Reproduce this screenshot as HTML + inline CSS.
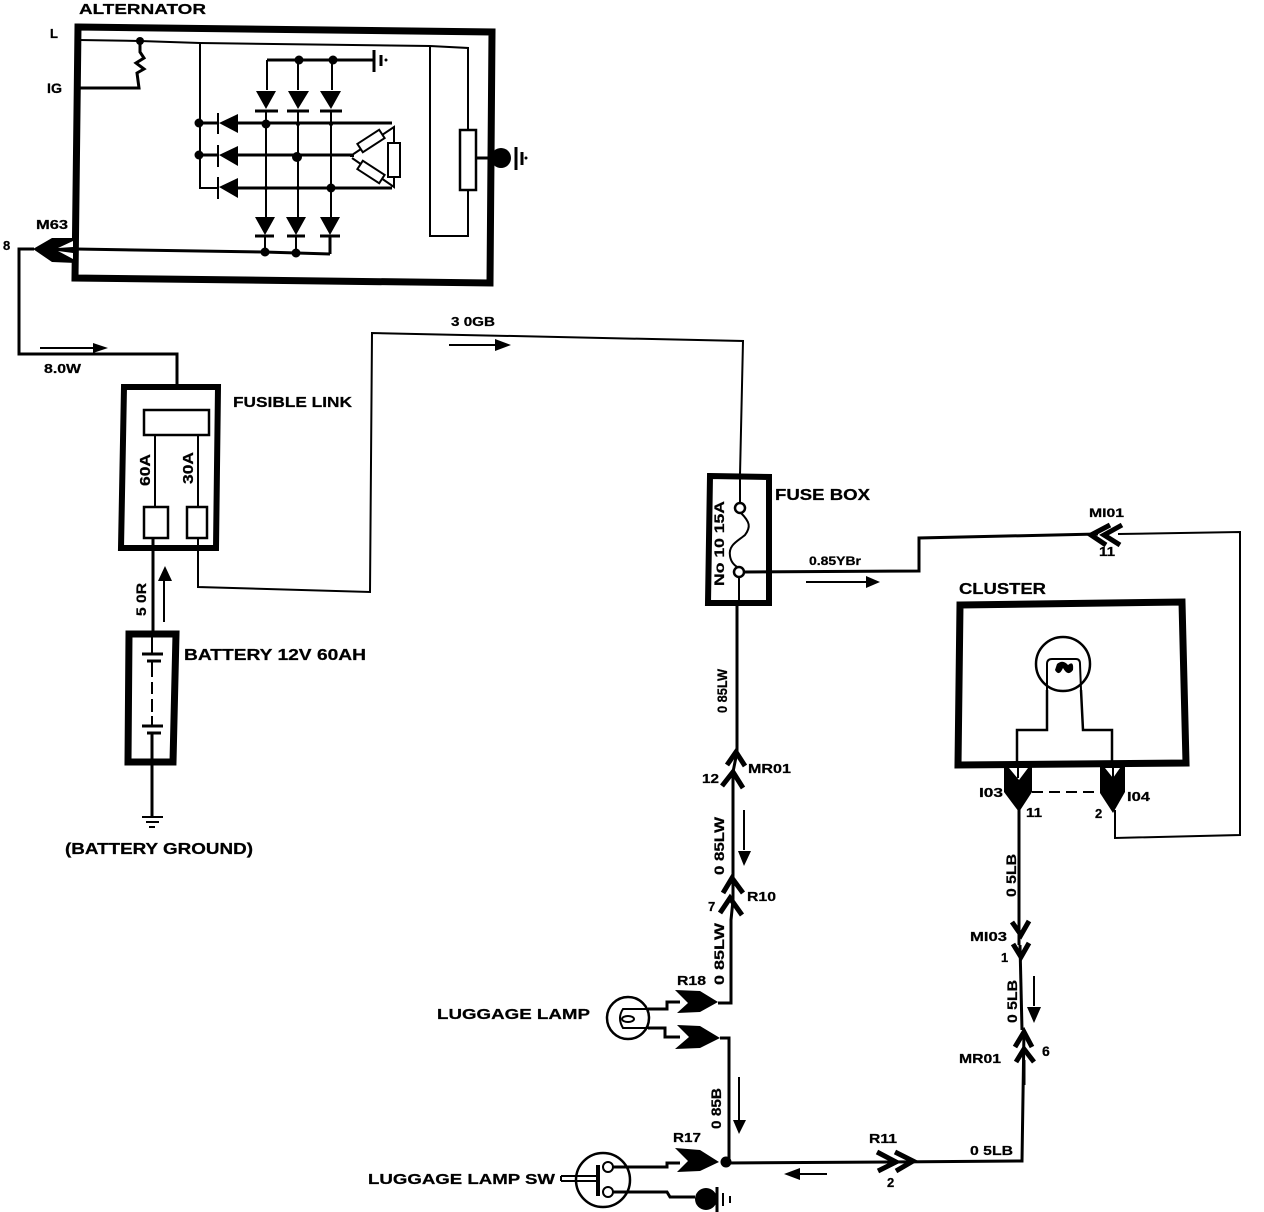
<!DOCTYPE html>
<html><head><meta charset="utf-8"><style>
html,body{margin:0;padding:0;background:#fff}
svg{display:block}
text{font-family:"Liberation Sans",sans-serif;fill:#000;stroke:#000;stroke-width:.25}
.b{font-weight:bold;font-size:16px}
.s{font-size:13px;font-weight:bold}
.w{fill:none;stroke:#000;stroke-width:2}
.h{fill:none;stroke:#000;stroke-width:3}
.t{fill:none;stroke:#000;stroke-width:6}
.c{fill:none;stroke:#000;stroke-width:5}
</style></head><body>
<svg width="1264" height="1212" viewBox="0 0 1264 1212" xmlns="http://www.w3.org/2000/svg">
<rect width="1264" height="1212" fill="#fff"/>

<!-- ALTERNATOR -->
<path class="t" style="stroke-width:7" d="M78,27 L492,32 L490,283 L75,278 Z"/>
<path class="w" d="M79,40 L140,41 L200,43 L430,46 L468,48 L468,130 M468,190 L468,236 L430,236 L430,46"/>
<rect x="460" y="130" width="16" height="60" fill="#fff" stroke="#000" stroke-width="2.5"/>
<path class="h" d="M476,158 L490,158"/>
<circle cx="501" cy="158" r="10"/>
<path class="h" d="M516,147 L516,170 M522,152 L522,165"/><circle cx="526" cy="158" r="1.5"/>
<circle cx="140" cy="41" r="4"/>
<path class="h" d="M140,41 L140,52 L144,58 L136,63 L144,69 L137,73 L139,88 L80,88"/>
<path class="w" d="M200,43 L200,188 L218,188"/>
<circle cx="199" cy="123" r="4.5"/><circle cx="199" cy="155" r="4.5"/>
<!-- horiz diodes -->
<path d="M219,123 L238,114 L238,133 Z"/><path d="M218,113 V134" class="w"/>
<path d="M219,155 L238,146 L238,166 Z"/><path d="M218,145 V167" class="w"/>
<path d="M219,187 L238,178 L238,198 Z"/><path d="M218,177 V199" class="w"/>
<path class="h" d="M200,123 H218 M238,123 H392 M200,155 H218 M238,155 H352 M238,188 H392"/>
<!-- verticals -->
<path class="w" d="M267,60 V90 M298,60 V90 M332,60 V90"/>
<path class="h" d="M267,60 H374"/>
<path class="h" d="M374,50 V72"/><path class="h" d="M381,55 V66"/><circle cx="386" cy="60" r="1.5"/>
<circle cx="299" cy="60" r="4.5"/><circle cx="333" cy="60" r="4.5"/>
<path d="M256,91 L276,91 L266,109 Z M288,91 L309,91 L298,109 Z M320,91 L341,91 L331,109 Z"/>
<path class="h" d="M255,111 H278 M287,111 H309 M320,111 H342"/>
<path class="w" d="M266,111 V218 M298,111 V218 M331,111 V218"/>
<path d="M255,217 L275,217 L265,235 Z M286,217 L306,217 L296,235 Z M320,217 L340,217 L330,235 Z"/>
<path class="h" d="M255,236 H274 M287,236 H305 M320,236 H340"/>
<path class="w" d="M265,235 V252 M296,235 V253"/>
<path class="h" d="M330,235 V254"/>
<path class="h" d="M76,249 L264,252 L330,254"/>
<circle cx="265" cy="252" r="4.5"/><circle cx="296" cy="253" r="4.5"/>
<circle cx="266" cy="124" r="4.5"/><circle cx="298" cy="124" r="2"/><circle cx="331" cy="124" r="2"/>
<circle cx="297" cy="157" r="5"/><circle cx="266" cy="188" r="2"/><circle cx="298" cy="188" r="2"/><circle cx="331" cy="188" r="4.5"/>
<!-- star / delta -->
<path class="w" d="M352,155 L394,127 L394,187 L352,158"/>
<path class="w" d="M350,156 H354"/>
<rect x="388" y="143" width="12" height="34" fill="#fff" stroke="#000" stroke-width="2"/>
<rect x="358" y="136" width="26" height="10" fill="#fff" stroke="#000" stroke-width="2" transform="rotate(-33 371 141)"/>
<rect x="358" y="167" width="26" height="10" fill="#fff" stroke="#000" stroke-width="2" transform="rotate(33 371 172)"/>
<!-- M63 -->
<path d="M33,249 L52,238 L76,238 L76,263 L52,262 Z"/>
<path d="M58,248 L73,241 L73,247 Z M58,251 L73,253 L73,259 Z" fill="#fff"/>
<path class="h" d="M34,249 H19 V354 H177 V388"/>
<text class="b" x="79" y="14" textLength="127" lengthAdjust="spacingAndGlyphs" style="font-size:15px">ALTERNATOR</text>
<text class="s" x="50" y="38">L</text>
<text class="s" x="47" y="93" style="font-size:14px" textLength="15" lengthAdjust="spacingAndGlyphs">IG</text>
<text class="s" x="36" y="229" textLength="32" lengthAdjust="spacingAndGlyphs">M63</text>
<text class="s" x="3" y="250">8</text>
<path class="w" d="M40,348 H96"/><path d="M93,343 L108,348 L93,353 Z"/>
<text class="s" x="44" y="373" textLength="37" lengthAdjust="spacingAndGlyphs">8.0W</text>

<!-- FUSIBLE LINK -->
<path class="t" d="M124,387 L218,387 L216,548 L121,548 Z"/>
<rect x="144" y="410" width="65" height="25" fill="#fff" stroke="#000" stroke-width="2.5"/>
<path class="w" d="M155,435 V507 M198,435 V507"/>
<rect x="144" y="507" width="24" height="31" fill="#fff" stroke="#000" stroke-width="2.5"/>
<rect x="187" y="507" width="20" height="31" fill="#fff" stroke="#000" stroke-width="2.5"/>
<text class="s" transform="translate(150,486) rotate(-90)" style="font-size:15px" textLength="32" lengthAdjust="spacingAndGlyphs">60A</text>
<text class="s" transform="translate(193,484) rotate(-90)" style="font-size:15px" textLength="32" lengthAdjust="spacingAndGlyphs">30A</text>
<text class="b" x="233" y="407" textLength="119" lengthAdjust="spacingAndGlyphs" style="font-size:15px">FUSIBLE LINK</text>
<path class="h" d="M153,538 V632"/>
<path class="w" d="M198,538 V587 L370,592 L372,333 L743,341 L740,475"/>
<path class="w" d="M164,622 V580"/><path d="M158,581 L165,566 L172,581 Z"/>
<text class="s" transform="translate(146,616) rotate(-90)" textLength="33" lengthAdjust="spacingAndGlyphs" style="font-size:14px">5 0R</text>

<!-- BATTERY -->
<path class="t" style="stroke-width:7" d="M129,634 L176,634 L173,762 L128,762 Z"/>
<path class="h" d="M142,654 H163 M147,661 H161 M142,726 H163 M147,733 H161"/>
<path class="w" d="M152,634 V654 M152,661 V677 M152,682 V694 M152,699 V712 M152,716 V726"/>
<path class="h" d="M152,733 V816"/>
<path class="w" d="M142,817 H163 M146,822 H159 M149,827 H155"/>
<text class="b" x="184" y="660" textLength="182" lengthAdjust="spacingAndGlyphs">BATTERY 12V 60AH</text>
<text class="b" x="65" y="854" textLength="188" lengthAdjust="spacingAndGlyphs">(BATTERY GROUND)</text>

<!-- top wire arrow -->
<path class="w" d="M449,345 H498"/><path d="M495,339 L511,345 L495,351 Z"/>
<text class="s" x="451" y="326" textLength="44" lengthAdjust="spacingAndGlyphs" style="font-size:13px">3 0GB</text>

<!-- FUSE BOX -->
<path class="t" d="M710,476 L769,477 L769,603 L708,603 Z"/>
<path class="w" d="M740,472 V503"/>
<circle cx="740" cy="508" r="5" fill="#fff" stroke="#000" stroke-width="2.5"/>
<path class="w" d="M741,513 C750,522 751,527 745,535 C738,541 728,545 730,556 C731,563 735,566 739,568"/>
<circle cx="739" cy="572" r="5" fill="#fff" stroke="#000" stroke-width="2.5"/>
<path class="w" d="M739,577 V605"/>
<text class="s" transform="translate(724,586) rotate(-90)" textLength="85" lengthAdjust="spacingAndGlyphs" style="font-size:14px">No 10 15A</text>
<text class="b" x="775" y="500" textLength="95" lengthAdjust="spacingAndGlyphs">FUSE BOX</text>
<path class="h" d="M744,572 L919,571 L919,538 L1098,534"/>
<path class="w" d="M1118,534 L1240,532 L1240,835 L1115,838 L1115,810"/>
<path class="c" d="M1110,525 L1091,535 L1106,545 M1122,525 L1104,535 L1120,545"/>
<text class="s" x="1089" y="517" textLength="35" lengthAdjust="spacingAndGlyphs" style="font-size:12px">MI01</text>
<text class="s" x="1099" y="556" textLength="16" lengthAdjust="spacingAndGlyphs">11</text>
<text class="s" x="809" y="565" textLength="52" lengthAdjust="spacingAndGlyphs" style="font-size:12px">0.85YBr</text>
<path class="w" d="M806,582 H868"/><path d="M866,576 L880,582 L866,588 Z"/>

<!-- middle column -->
<path class="h" d="M737,605 V752 L733,772 V900 L731,920 V1003 L718,1003"/>
<path class="c" d="M727,765 L736,752 L745,766 M722,786 L733,772 L743,788"/>
<path class="c" d="M723,893 L732,878 L743,893 M720,913 L730,898 L742,915"/>
<text class="s" transform="translate(727,713) rotate(-90)" textLength="44" lengthAdjust="spacingAndGlyphs" style="font-size:14px">0 85LW</text>
<text class="s" transform="translate(724,875) rotate(-90)" textLength="58" lengthAdjust="spacingAndGlyphs" style="font-size:14px">0 85LW</text>
<text class="s" transform="translate(724,985) rotate(-90)" textLength="62" lengthAdjust="spacingAndGlyphs" style="font-size:14px">0 85LW</text>
<text class="s" x="748" y="773" textLength="43" lengthAdjust="spacingAndGlyphs">MR01</text>
<text class="s" x="702" y="783" textLength="17" lengthAdjust="spacingAndGlyphs">12</text>
<text class="s" x="747" y="901" textLength="29" lengthAdjust="spacingAndGlyphs">R10</text>
<text class="s" x="708" y="911">7</text>
<path class="w" d="M744,810 V850"/><path d="M738,851 L751,851 L744,866 Z"/>

<!-- LUGGAGE LAMP -->
<circle cx="628" cy="1018" r="21" fill="#fff" stroke="#000" stroke-width="2.5"/>
<ellipse cx="628" cy="1019" rx="6" ry="3" fill="none" stroke="#000" stroke-width="2"/>
<path class="w" d="M648,1009 H623 Q617,1018 623,1028 H648"/>
<path class="h" d="M648,1009 H667 V1002 H680 M648,1028 H665 V1037 H680"/>
<path d="M675,990 L700,991 L718,1002 L700,1012 L677,1013 L688,1003 Z"/>
<path d="M677,1025 L700,1026 L720,1038 L700,1048 L675,1049 L689,1037 Z"/>
<path class="h" d="M720,1038 H729 V1162"/>
<text class="s" x="677" y="985" textLength="29" lengthAdjust="spacingAndGlyphs">R18</text>
<text class="b" x="437" y="1019" textLength="153" lengthAdjust="spacingAndGlyphs" style="font-size:15px">LUGGAGE LAMP</text>
<path class="w" d="M739,1077 V1122"/><path d="M733,1120 L746,1120 L739,1134 Z"/>
<text class="s" transform="translate(721,1129) rotate(-90)" textLength="41" lengthAdjust="spacingAndGlyphs" style="font-size:14px">0 85B</text>

<!-- SW -->
<circle cx="603" cy="1180" r="27" fill="#fff" stroke="#000" stroke-width="2.5"/>
<path class="w" d="M561,1176 H596 M561,1181 H596 M561,1176 V1181"/>
<path d="M596,1165 H600 V1196 H596 Z"/>
<circle cx="608" cy="1167" r="5" fill="#fff" stroke="#000" stroke-width="2"/>
<circle cx="608" cy="1192" r="5" fill="#fff" stroke="#000" stroke-width="2"/>
<path class="h" d="M613,1167 H667 V1163 H680 M613,1192 H667 L670,1197 H695"/>
<path d="M675,1148 L700,1150 L719,1162 L700,1171 L677,1172 L688,1161 Z"/>
<circle cx="706" cy="1199" r="11"/>
<path class="h" d="M717,1187 V1212"/><path class="w" d="M723,1193 V1206"/><path class="w" d="M730,1196 V1203"/>
<circle cx="726" cy="1162" r="5.5"/>
<text class="s" x="673" y="1142" textLength="28" lengthAdjust="spacingAndGlyphs">R17</text>
<text class="b" x="368" y="1184" textLength="187" lengthAdjust="spacingAndGlyphs" style="font-size:15px">LUGGAGE LAMP SW</text>

<!-- bottom wire -->
<path class="h" d="M726,1163 L890,1162 L1022,1161 L1024,1030"/>
<path class="c" d="M877,1152 L896,1162 L878,1171 M895,1152 L913,1161 L896,1171"/>
<path class="w" d="M800,1174 H827"/><path d="M784,1174 L800,1168 L800,1180 Z"/>
<text class="s" x="869" y="1143" textLength="28" lengthAdjust="spacingAndGlyphs">R11</text>
<text class="s" x="887" y="1187">2</text>
<text class="s" x="970" y="1155" textLength="43" lengthAdjust="spacingAndGlyphs">0 5LB</text>

<!-- right column -->
<path class="c" d="M1015,1047 L1024,1032 L1032,1047 M1016,1062 L1024,1049 L1034,1062"/>
<path class="h" d="M1024,1060 V1085"/>
<path class="w" d="M1024,1032 V1060"/>
<text class="s" x="959" y="1063" textLength="42" lengthAdjust="spacingAndGlyphs">MR01</text>
<text class="s" x="1042" y="1056" style="font-size:14px">6</text>
<path class="w" d="M1034,976 V1006"/><path d="M1027,1007 L1041,1007 L1034,1023 Z"/>
<text class="s" transform="translate(1017,1023) rotate(-90)" textLength="43" lengthAdjust="spacingAndGlyphs" style="font-size:14px">0 5LB</text>
<path class="h" d="M1020,945 L1022,1030"/>
<path class="h" d="M1019,805 V945"/>
<path class="c" d="M1012,922 L1021,935 L1029,921 M1013,944 L1021,957 L1029,943"/>
<text class="s" transform="translate(1016,897) rotate(-90)" textLength="43" lengthAdjust="spacingAndGlyphs" style="font-size:14px">0 5LB</text>
<text class="s" x="970" y="941" textLength="37" lengthAdjust="spacingAndGlyphs">MI03</text>
<text class="s" x="1001" y="962">1</text>

<!-- CLUSTER -->
<path d="M960,605 L1182,602 L1186,763 L958,765 Z" fill="none" stroke="#000" stroke-width="7"/>
<circle cx="1063" cy="664" r="27" fill="none" stroke="#000" stroke-width="2.5"/>
<path class="w" d="M1047,690 V664 Q1047,659 1052,659 H1076 Q1080,659 1080,664 L1081,690"/>
<path class="w" style="stroke-width:2.5" d="M1047,690 V730 H1017 V768 M1081,690 L1083,730 H1112 V768"/>
<path d="M1057,664 Q1063,659 1068,665 Q1074,660 1073,670 Q1068,677 1063,668 Q1059,677 1055,670 Z"/>
<path d="M1004,767 L1032,767 L1032,792 L1019,812 L1004,792 Z"/>
<path d="M1100,767 L1125,767 L1125,792 L1113,813 L1100,793 Z"/>
<path d="M1009,768 L1028,768 L1019,780 Z M1105,768 L1120,768 L1113,778 Z" fill="#fff"/>
<path class="w" d="M1018,768 V778 M1113,768 V778"/>
<path class="w" stroke-dasharray="11 6" d="M1032,792 H1100"/>
<text class="b" x="959" y="594" textLength="87" lengthAdjust="spacingAndGlyphs">CLUSTER</text>
<text class="s" x="979" y="797" textLength="24" lengthAdjust="spacingAndGlyphs">I03</text>
<text class="s" x="1127" y="801" textLength="23" lengthAdjust="spacingAndGlyphs">I04</text>
<text class="s" x="1026" y="817" textLength="16" lengthAdjust="spacingAndGlyphs">11</text>
<text class="s" x="1095" y="818">2</text>
</svg>
</body></html>
